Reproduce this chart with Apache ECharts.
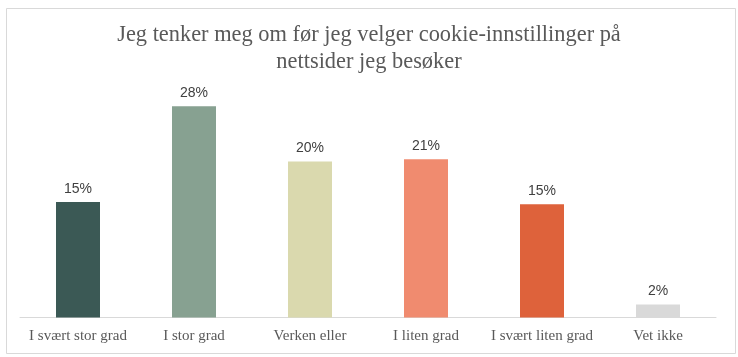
<!DOCTYPE html>
<html><head><meta charset="utf-8">
<script src="https://cdn.jsdelivr.net/npm/echarts@6/dist/echarts.min.js"></script>
<style>html,body{margin:0;padding:0;background:#fff}#c{width:738px;height:357px}</style>
</head><body><div id="c"></div>
<script>
const titleText = 'Jeg tenker meg om før jeg velger cookie-innstillinger på\nnettsider jeg besøker';
const categories = ['I svært stor grad', 'I stor grad', 'Verken eller', 'I liten grad', 'I svært liten grad', 'Vet ikke'];
const values = [15.1, 27.6, 20.4, 20.7, 14.8, 1.7];
const labels = ['15%', '28%', '20%', '21%', '15%', '2%'];
const colors = ['#3B5955', '#87A191', '#DAD9AE', '#F08B6F', '#DE623B', '#D9D9D9'];

const chart = echarts.init(document.getElementById('c'), null, {renderer: 'canvas'});
chart.setOption({
  animation: false,
  backgroundColor: '#fff',
  graphic: [{
    type: 'rect', left: 4, top: 6, shape: {width: 729, height: 345},
    style: {fill: 'none', stroke: '#D9D9D9', lineWidth: 1}, silent: true, z: -1
  }],
  title: {
    text: titleText, left: 'center', top: 17,
    textStyle: {fontFamily: 'Liberation Serif', fontSize: 22.4, fontWeight: 'normal', color: '#595959', lineHeight: 27}
  },
  grid: {left: 20, right: 22, top: 88, bottom: 39.5},
  xAxis: {
    type: 'category', data: categories,
    axisLine: {lineStyle: {color: '#D9D9D9'}},
    axisTick: {show: false},
    axisLabel: {fontFamily: 'Liberation Serif', fontSize: 15, color: '#595959', margin: 11, interval: 0}
  },
  yAxis: {type: 'value', min: 0, max: 30, show: false, splitLine: {show: false}},
  series: [{
    type: 'bar', barWidth: 44,
    data: values.map((v, i) => ({value: v, itemStyle: {color: colors[i]}})),
    label: {
      show: true, position: 'top', distance: 6,
      formatter: p => labels[p.dataIndex],
      fontFamily: 'Liberation Sans', fontSize: 14, color: '#404040'
    }
  }]
});
</script></body></html>
